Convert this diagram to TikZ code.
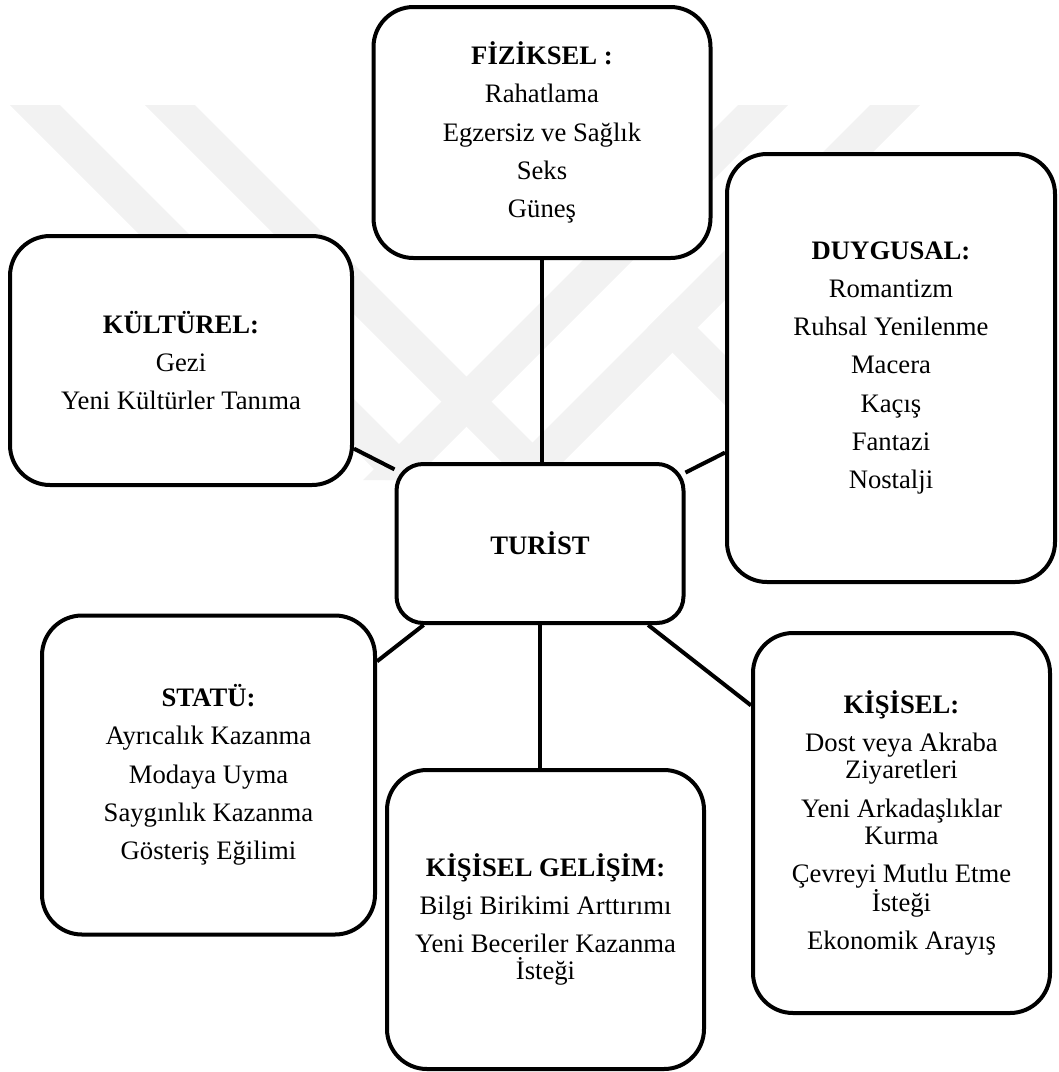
\documentclass[tikz,border=0pt]{standalone}
\usepackage{fontspec}
\setmainfont{Liberation Serif}
\usepackage{tikz}

\newcommand{\itemgap}{\\[8.4pt]}

\tikzset{
  motive/.style={draw, line width=3pt, rounded corners=30pt, fill=white,
    align=center, inner sep=0pt, font=\fontsize{20}{20.3}\selectfont},
  boxsize/.style 2 args={minimum width=#1*0.75pt, minimum height=#2*0.75pt},
  link/.style={line width=3pt},
  wmband/.style={fill=black!5}
}

\begin{document}
\begin{tikzpicture}[x=0.75pt,y=0.75pt,yscale=-1,xscale=1]
\useasboundingbox (0,0) rectangle (1058,1072);

% watermark
\begin{scope}
\clip (0,105) rectangle (1058,480);
\foreach \s in {10,145}
  \fill[wmband] (\s,105) -- (\s+50,105) -- (\s+425,480) -- (\s+375,480) -- cycle;
\foreach \s in {738,870}
  \fill[wmband] (\s,105) -- (\s+50,105) -- (\s-325,480) -- (\s-375,480) -- cycle;
\fill[wmband] (672.5,302.5) -- (850,480) -- (800,480) -- (647.5,327.5) -- cycle;
\end{scope}

\node[motive, boxsize={287}{159}, rounded corners=20pt] (turist) at (540,543.5) {\textbf{TURİST}};

\node[motive, boxsize={337}{251}] (fiz) at (542,132.5)
  {\textbf{FİZİKSEL :}\itemgap Rahatlama\itemgap Egzersiz ve Sağlık\itemgap Seks\itemgap Güneş};

\node[motive, boxsize={342}{249}] (kult) at (181,360.5)
  {\textbf{KÜLTÜREL:}\itemgap Gezi\itemgap Yeni Kültürler Tanıma};

\node[motive, boxsize={328}{428}] (duyg) at (891,368)
  {\textbf{DUYGUSAL:}\itemgap Romantizm\itemgap Ruhsal Yenilenme\itemgap Macera\itemgap Kaçış\itemgap Fantazi\itemgap Nostalji};

\node[motive, boxsize={333}{319}] (statu) at (208.5,775)
  {\textbf{STATÜ:}\itemgap Ayrıcalık Kazanma\itemgap Modaya Uyma\itemgap Saygınlık Kazanma\itemgap Gösteriş Eğilimi};

\node[motive, boxsize={317}{299}] (gelisim) at (545.5,919.5)
  {\textbf{KİŞİSEL GELİŞİM:}\itemgap Bilgi Birikimi Arttırımı\itemgap Yeni Beceriler Kazanma\\ İsteği};

\node[motive, boxsize={297}{380}] (kisisel) at (901.5,823)
  {\textbf{KİŞİSEL:}\itemgap Dost veya Akraba\\ Ziyaretleri\itemgap Yeni Arkadaşlıklar\\ Kurma\itemgap Çevreyi Mutlu Etme\\ İsteği\itemgap Ekonomik Arayış};

\draw[link] (fiz.south) -- (fiz.south |- turist.north);
\draw[link] (kult.-27.5) -- (turist.153.6);
\draw[link] (turist.26.7) -- (duyg.-153.2);
\draw[link] (statu.34.7) -- (turist.-145.6);
\draw[link] (turist.south) -- (turist.south |- gelisim.north);
\draw[link] (turist.-37.7) -- (kisisel.142);

\end{tikzpicture}
\end{document}
